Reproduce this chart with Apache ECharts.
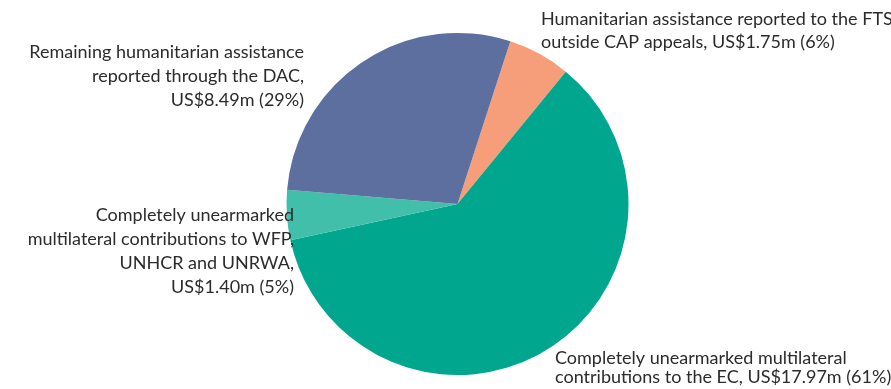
<!DOCTYPE html>
<html><head><meta charset="utf-8">
<script src="https://cdn.jsdelivr.net/npm/echarts@6/dist/echarts.min.js"></script>
<style>html,body{margin:0;padding:0;background:#fff}#c{width:891px;height:389px}</style>
</head><body><div id="c"></div>
<script>
const categories = [
  "Humanitarian assistance reported to the FTS\noutside CAP appeals, US$1.75m (6%)",
  "Completely unearmarked multilateral\ncontributions to the EC, US$17.97m (61%)",
  "Completely unearmarked\nmultilateral contributions to WFP,\nUNHCR and UNRWA,\nUS$1.40m (5%)",
  "Remaining humanitarian assistance\nreported through the DAC,\nUS$8.49m (29%)"
];
const values = [1.75, 17.97, 1.40, 8.49];
const colors = ["#F59E79", "#00A78E", "#41BFAA", "#5C6F9F"];
const labelPos = [
  {x: 541, y: 31, align: 'left'},
  {x: 555, y: 368, align: 'left'},
  {x: 294, y: 251, align: 'right'},
  {x: 304, y: 76, align: 'right'}
];
const lineHeights = [23, 19, 24, 24];

const chart = echarts.init(document.getElementById('c'), null, {renderer: 'canvas'});
chart.setOption({
  animation: false,
  series: [{
    type: 'pie',
    center: [457.5, 204],
    radius: [0, 171],
    startAngle: 72,
    clockwise: true,
    silent: true,
    itemStyle: {borderWidth: 0},
    labelLine: {show: false},
    label: {
      show: true,
      color: '#2b2b2b',
      fontFamily: 'Lato',
      fontSize: 18,
      overflow: 'none',
      formatter: p => p.name
    },
    labelLayout: function (params) {
      const p = labelPos[params.dataIndex];
      return {x: p.x, y: p.y, align: p.align, verticalAlign: 'middle', hideOverlap: false, moveOverlap: null};
    },
    data: categories.map((c, i) => ({
      name: c, value: values[i],
      itemStyle: {color: colors[i]},
      label: {align: labelPos[i].align, lineHeight: lineHeights[i], overflow: 'none', width: 400}
    }))
  }]
});
</script></body></html>
